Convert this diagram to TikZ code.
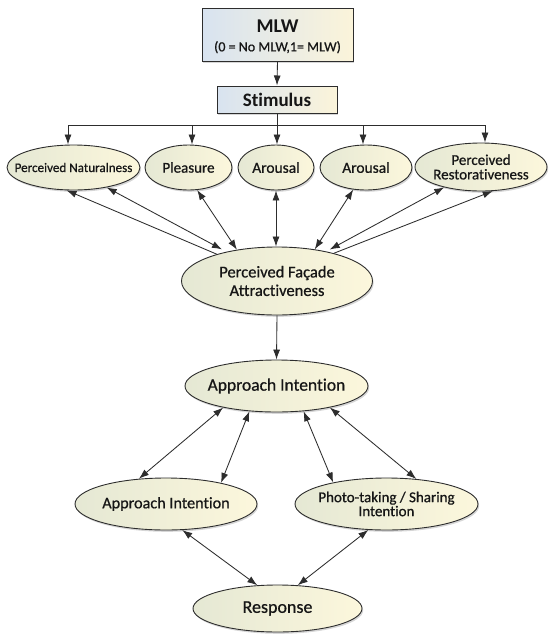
\documentclass[tikz,border=0pt]{standalone}
\usepackage{fontspec}
\setmainfont{Carlito}[Ligatures={NoCommon}]
\newfontfamily\medfont{Carlito}[FakeBold=0.7,Ligatures={NoCommon}]
\usetikzlibrary{arrows.meta,shadows,shapes.geometric,calc}
\definecolor{ellL}{RGB}{229,232,212}
\definecolor{ellR}{RGB}{252,247,220}
\definecolor{boxL}{RGB}{216,227,240}
\definecolor{boxR}{RGB}{251,244,218}
\definecolor{edgec}{RGB}{45,45,45}
\definecolor{txt}{RGB}{22,22,22}
\begin{document}
\begin{tikzpicture}[x=1pt,y=-1pt,
  shadowed/.style={drop shadow={shadow xshift=1.2pt,shadow yshift=-1.8pt,opacity=0.16,fill=black}},
  ell/.style={ellipse,draw=edgec,line width=0.9pt,left color=ellL,right color=ellR,inner sep=0pt,shadowed},
  rbox/.style={rectangle,draw=edgec,line width=1pt,left color=boxL,right color=boxR,inner sep=0pt,shadowed},
  lab/.style={text=txt,align=center,inner sep=0pt},
  con/.style={draw=edgec,line width=0.85pt},
  arr/.style={-{Latex[length=10pt,width=7pt]}},
  darr/.style={{Latex[length=10pt,width=7pt]}-{Latex[length=10pt,width=7pt]}}
]
\useasboundingbox[fill=white] (0,0) rectangle (550,641);

% boxes
\node[rbox,minimum width=151pt,minimum height=53pt,
  label={[lab,yshift=-2pt,font=\medfont\fontsize{14}{19}\selectfont]center:{{\normalfont\fontsize{19.5}{19}\selectfont\bfseries MLW}\\(0 = No MLW,1= MLW)}}] (mlw) at (277.5,34.5) {};
\node[rbox,minimum width=120pt,minimum height=27pt,
  label={[lab,font=\fontsize{19}{20}\selectfont\bfseries]center:Stimulus}] (stim) at (277,99.5) {};

% first row
\node[ell,minimum width=133pt,minimum height=45pt,
  label={[lab,font=\medfont\fontsize{13.1}{14}\selectfont]center:Perceived Naturalness}] (pn) at (73.5,167.5) {};
\node[ell,minimum width=87pt,minimum height=45pt,
  label={[lab,font=\medfont\fontsize{15}{16}\selectfont]center:Pleasure}] (pl) at (188.5,167.5) {};
\node[ell,minimum width=76pt,minimum height=45pt,
  label={[lab,font=\medfont\fontsize{15.5}{16}\selectfont]center:Arousal}] (ar1) at (276,167.5) {};
\node[ell,minimum width=92pt,minimum height=45pt,
  label={[lab,font=\medfont\fontsize{15.5}{16}\selectfont]center:Arousal}] (ar2) at (366,167.5) {};
\node[ell,minimum width=132pt,minimum height=48pt,
  label={[lab,font=\medfont\fontsize{15}{14.5}\selectfont]center:{Perceived\\Restorativeness}}] (pr) at (481,167) {};

% middle
\node[ell,minimum width=191pt,minimum height=68pt,
  label={[lab,font=\medfont\fontsize{16.5}{18.5}\selectfont]center:{Perceived Façade\\Attractiveness}}] (pfa) at (277,281) {};
\node[ell,minimum width=183pt,minimum height=52pt,
  label={[lab,font=\medfont\fontsize{17.5}{18}\selectfont]center:Approach Intention}] (ai1) at (276.5,386) {};
\node[ell,minimum width=182pt,minimum height=52pt,
  label={[lab,font=\medfont\fontsize{16.2}{18}\selectfont]center:Approach Intention}] (ai2) at (166,504) {};
\node[ell,minimum width=183pt,minimum height=52pt,
  label={[lab,font=\medfont\fontsize{15}{14}\selectfont]center:{Photo-taking / Sharing\\Intention}}] (pt) at (386.5,504) {};
\node[ell,minimum width=169pt,minimum height=47pt,
  label={[lab,font=\medfont\fontsize{18}{19}\selectfont]center:Response}] (re) at (277.5,608.5) {};

% top connectors
\draw[con,arr] (mlw.south) -- (stim.north);
\coordinate (bus) at (277,125);
\coordinate (dpn) at ([xshift=-5.5pt]pn.north);
\coordinate (dpl) at ([xshift=3.5pt]pl.north);
\coordinate (dar1) at ([xshift=1pt]ar1.north);
\coordinate (dar2) at ([xshift=-3pt]ar2.north);
\coordinate (dpr) at ([xshift=4pt]pr.north);
\draw[con] (stim.south) -- (bus);
\draw[con] (dpn |- bus) -- (dpr |- bus);
\foreach \d in {dpn,dpl,dar1,dar2,dpr}
  \draw[con,arr] (\d |- bus) -- (\d);

% row 1 <-> PFA
\draw[con,arr] (pfa.156) -- (pn.-107);
\draw[con,darr,shorten <=5pt] (pfa.150) -- (pn.-31);
\draw[con,darr] (pfa.142) -- (pl.-69);
\draw[con,darr] (ar1.south |- pfa.north) -- (ar1.south);
\draw[con,darr] (pfa.40) -- (ar2.-120);
\draw[con,darr,shorten <=4pt] (pfa.31) -- (pr.-151);
\draw[con,arr] (pfa.26) -- (pr.-64);

% lower part
\draw[con,arr] (pfa.south) -- (ai1.north);
\draw[con,darr] (ai1.-158) -- (ai2.137);
\draw[con,darr] (ai1.-137) -- (ai2.21);
\draw[con,darr] (ai1.-43) -- (pt.158);
\draw[con,darr] (ai1.-22) -- (pt.40);
\draw[con,darr] (ai2.-58) -- (re.131);
\draw[con,darr] (pt.-125) -- (re.49);
\end{tikzpicture}
\end{document}
